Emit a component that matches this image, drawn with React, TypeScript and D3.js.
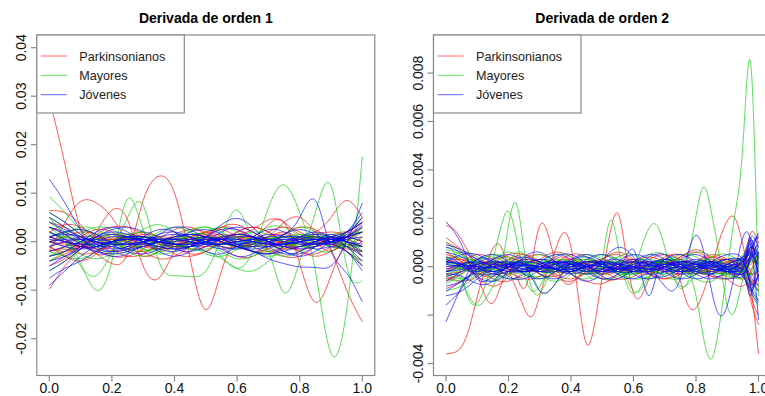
import React from "react";
import * as d3 from "d3";

// Evaluation grids (x in [0, 1])
const gridD1 = [0, 0.05, 0.1, 0.15, 0.2, 0.25, 0.3, 0.35, 0.4, 0.45, 0.5, 0.55, 0.6, 0.65, 0.7, 0.75, 0.8, 0.85, 0.9, 0.95, 1];
const gridD2 = [0, 0.05, 0.1, 0.15, 0.2, 0.25, 0.3, 0.35, 0.4, 0.45, 0.5, 0.55, 0.6, 0.65, 0.7, 0.75, 0.8, 0.85, 0.9, 0.95, 0.975, 1];
const gridD2Fine = [
  0, 0.025, 0.05, 0.075, 0.1, 0.125, 0.15, 0.175, 0.2, 0.225, 0.25, 0.275, 0.3, 0.325, 0.35, 0.375, 0.4, 0.425, 0.45, 0.475,
  0.5, 0.525, 0.55, 0.575, 0.6, 0.625, 0.65, 0.675, 0.7, 0.725, 0.75, 0.775, 0.8, 0.825, 0.85, 0.875, 0.9, 0.925, 0.95, 0.975, 1,
];

// First derivative curves, values in units of 1e-3
const unitD1 = 1e-3;
const parkinsonD1 = [
  [3, 1.5, -0.5, -1.5, -1, 0.5, 1.5, 1, -0.5, -1.5, -1, 0.5, 1.5, 1, -0.5, -1.5, -1, 0, 1, 2, 4],
  [-4, -2.5, -1, 0.5, 1.5, 1, -0.5, -1.5, -1, 0.5, 2, 2.5, 1, -1, -2, -1, 0.5, 1, 0, -2, -4],
  [-2, -1.5, -2.5, -2, -0.5, 1, 2, 1, -1, -2.5, -2, 0, 2, 3, 2, 0, -1.5, -1, 0, 1, 3],
  [1, 0, -0.5, 0, 0.5, 0, -0.5, 0, 0.5, 0.5, 0, -0.5, 0, 0.5, 0.5, 0, -0.5, 0, 0.5, 1, 2],
  [6.4, 6, 3.5, 0, -2, -1.5, 0, 1, 0.5, -0.5, -1, -0.5, 0.5, 1, 0.5, -0.5, -1, -0.5, 0.5, 1, 0],
  [-9.8, -5, -1.5, 0.5, 1, 0.5, -0.5, -1, -0.5, 0.5, 1, 0.5, -0.5, -1, -0.5, 0, 0.5, 0, -0.5, -2, -5],
  [0, 1, 2, 1.5, 0, -1.5, -2, -1, 0.5, 1.5, 1, 0, -1, -0.5, 1, 4, 5, 2, -1, -1, 1],
  [-1, -3, -4, -2.5, 0, 1.5, 1, 0, -0.5, 0, 1, 1.5, 1, 0, -0.5, -1, -2, -3, -2, 0, 3],
  [2, 0.5, -1, -1, 0, 0.5, 0.5, 0, 0, 0.5, 1, 3, 3.5, 2, 0.5, 0, 0.5, 1, 0.5, -0.5, -1],
  [-3, -2, -0.5, 0.5, 0.5, 0, -1, -1.5, -1, 0, 0.5, 0, -1, -2, -1.5, 0, 1, 0.5, -0.5, -1.5, -2],
  [4, 3, 1, -1.5, -3, -3, -1.5, 0.5, 2.5, 3, 1.5, -1, -3, -3, -1, 1.5, 3, 2.5, 0.5, -1, -2],
  [-5, -3.5, -1, 1.5, 3, 3, 1.5, -0.5, -2.5, -3, -2, 0, 2, 3, 2, 0, -2, -2.5, -1, 1, 4],
  [2, 3.5, 3, 1, -1.5, -3, -2.5, -0.5, 1.5, 2.5, 2, 0.5, -1, -2, -2.5, -1.5, 0, 1.5, 2, 1, -3],
  [-2, -1, 1, 2.5, 2, 0, -2, -3.5, -3, -1, 1.5, 3, 2.5, 0.5, -1.5, -3, -3, -1, 1, 2, 0],
  [29.5, 16, 2.5, -2.5, -2, 0, 1, 0.5, -0.5, 0, 0.5, 0, -1, -0.5, 0.5, 1, 0.5, -0.5, 0, 0.5, -1],
  [-1, -2, -1, -2.5, -4.5, -2.5, 8.5, 13.5, 10, -3.5, -14, -6, 0.5, 1, 0, -1, 0, 1, 0, -1, 0],
  [-2, 4, 8.3, 8, 5, 0, -3, -2, 0, 1, 2, 1, -1, -0.5, 1, 1.5, 0, -1, 0, 1, 2],
  [0, -1, -1.5, 2, 6.5, 4.5, -5, -7.5, -2, 1, 1.5, 0, -1, 0, 2, 3, 2, 0, -2, 1, 5],
  [1, 0, -1, -1, 0, 1, 1, 0, -1, -1, 0, 1, 1, 1, 3.5, 4, -4.5, -12.5, -7, 0, 2],
  [-1, 0, 1, 1, 0, -1, -1, 0, 1, 1, 0, -1, -1, 0, 1, 2, 1, 1, -2, -10, -16.5],
  [0, -0.5, -1, -0.5, 0.5, 1, 0.5, -0.5, -1, -0.5, 0.5, 1, 1.5, 2.5, 4.5, 4, 1.5, 2, 5, 8.5, 5],
];
const mayoresD1 = [
  [-3, -2, 0, 1.5, 1.5, 0, -1.5, -1.5, 0, 1.5, 1.5, 0, -1, -1, 0, 1, 1, 0, -1, -1, 1],
  [5, 3, 1, 0, -0.5, -1, -1, 0, 1, 1, 0, -1, -1.5, -0.5, 0.5, 1, 0.5, -0.5, 0, 2, 5],
  [-6, -4, -1.5, 0.5, 1.5, 1.5, 0.5, -0.5, -1, -0.5, 0.5, 1, 0.5, -0.5, -1, -1, 0, 1, 1, 0, -3],
  [9.3, 6, 2.5, 0.5, -0.5, -0.5, 0, 0.5, 0.5, 0, -0.5, -0.5, 0, 0.5, 0.5, 0, -0.5, -0.5, 0, 1, 3],
  [1, 2, 2.5, 1.5, 0, -1.5, -2, -1, 1, 2.5, 3, 2, 0, -2, -3, -2, 0, 1.5, 1, -1, -2],
  [-2, -3, -3.5, -2, 0, 1.5, 2, 1, -0.5, -1.5, -1.5, -0.5, 1, 2, 1.5, 0, -1, -1, 0.5, 1.5, 2],
  [4, 2, 0, -1, -0.5, 0.5, 1, 0.5, -0.5, -1, -0.5, 0.5, 1, 0.5, 0, -0.5, 0, 0.5, 0.5, -1, -5],
  [0, 1, 0, -1, -0.5, 0.5, 1, 0.5, -0.5, -1.5, -2, -3.5, -5.5, -6, -4, -1, 1, 1, 0, -1, -1],
  [-4, -2, 0, 0.5, 0, -0.5, -0.5, 0, 0.5, 0.5, 0, -0.5, -0.5, 0, 0.5, 1, 1.5, 1, 0, -0.5, -1],
  [2, 0, -2.5, -3.5, -2.5, 0, 2.5, 3.5, 2, -0.5, -2.5, -3, -1.5, 1, 3, 3, 1, -1.5, -2, 0, 3],
  [-3, -1, 1.5, 3, 2.5, 0.5, -1.5, -2.5, -2, 0, 2, 3, 2, 0, -2, -3, -2, 0, 1.5, 1, -2],
  [6, 4, 1.5, -1, -2.5, -2, 0, 2, 3, 2, 0, -2, -3.5, -3, -1, 1.5, 3, 2, 0, -2, -4],
  [-1, 1.5, 3, 2.5, 0.5, -2, -3, -2, 0, 2, 3, 1.5, -0.5, -2, -2, -0.5, 1, 0.5, -1, 0, 2],
  [5, 1, -4.5, -10, -4, 8.8, 2.5, -2, -1, 0, 1, 0, -1, 0, 1, 0, -1, 0, 1, 0, -1],
  [3, 0, -5, -7, -2, 5, 7.5, -4, -7, -7.2, -6, 1, 6.5, 1, -2, -10.5, -4, 6, 11.5, -5, -8],
  [2, 1, 0, -1, 0, 1, 0, -1, 0, 1, 0, -3, -5.5, -2, 7, 11.7, 6, -6, -23, -14, 17.5],
];
const jovenesD1 = [
  [12.9, 8, 2.5, -0.5, -1, 0, 0.5, 0, -0.5, 0, 0.5, 0.5, 0, -0.5, 0, 0.5, 0.5, 0, -0.5, 1, 3],
  [-9, -6, -3, -1, 0, 0.5, 0.5, 0, -0.5, -0.5, 0, 0.5, 0.5, 0, -0.5, -0.5, 0, 0.5, 0.5, 1, 2],
  [-7.5, -5.5, -4, -2, 0, 1, 1, 0.5, -0.5, -1, -0.5, 0.5, 1, 1, 0, -1, -1, 0, 1, 2, 4],
  [4, 2.5, 1, 0, -0.5, -0.5, 0, 0.5, 0.5, 0, -0.5, -0.5, 0, 0.5, 0.5, 0, -0.5, -0.5, 0, 0.5, 1],
  [1, 1.5, 1, 0, -1, -1.5, -1, 0, 1, 1.5, 1, 0, -1, -1.5, -1, 0, 1, 1.5, 1, 0, -1],
  [-2, -1, 0, 1, 1.5, 1, 0, -1, -1.5, -1, 0, 1, 1.5, 1, 0, -1, -1.5, -1, 0, 1, 2],
  [6, 4, 1.5, -0.5, -1.5, -1, 0, 1, 1.5, 1, 0, -1, -1.5, -1, 0, 1, 1, 0.5, 0, 2, 6],
  [0, -1, -1.5, -1, 0, 0.5, 0, -1, -1.5, -1, 1, 3.5, 4.8, 3, 0, -2, -2.5, -1, 0.5, 1, 0],
  [-4, -3, -1.5, 0, 1, 1, 0.5, 0, 0, 0.5, 1, 0.5, -0.5, -1, -1, -0.5, 0.5, 1, 0.5, 0, -1],
  [2, 0.5, -1, -2, -2.5, -2, -1, 0, 1, 1.5, 1, 0, -1, -2, -2.5, -2, -1, 0, 1, 0, -3],
  [-1, 0, 0.5, 0.5, 0, -0.5, -0.5, 0, 0.5, 0.5, 0, -0.5, -0.5, 0, 0.5, 0.5, 0, -0.5, -0.5, -2, -6],
  [3, 2, 0.5, -1, -2, -1.5, 0, 1.5, 2, 1, -0.5, -1.5, -1, 0.5, 1.5, 1, 0, -0.5, 0, 1.5, 5],
  [-5, -3, -1, 1, 2.5, 3, 2, 0, -1.5, -2, -1, 0.5, 1.5, 1, 0, -0.5, 0, 0.5, 0, -1, -3],
  [0.5, 0, -0.5, -0.5, 0, 0.5, 0.5, 0, -0.5, -0.5, 0, 0.5, 0.5, 0, -0.5, -0.5, 0, 0.5, 0.5, 0, -0.5],
  [3, 1.5, -0.5, -2, -3, -2.5, -0.5, 1.5, 3, 2.5, 0.5, -1.5, -3, -2.5, -0.5, 1.5, 2.5, 1.5, 0, 1, 3.5],
  [-3, -2, 0, 2, 3, 2, 0, -2, -3, -2, 0, 2, 3, 2, 0, -2, -3, -2, 0, 2, 4],
  [5, 3, 0.5, -1.5, -2, -1, 1, 2.5, 2, 0, -2, -2.5, -1, 1, 2.5, 2, 0, -1.5, -1, -2, -5],
  [-6, -4, -1.5, 1, 2, 1.5, 0, -1.5, -2, -1, 1, 2.5, 2.5, 1, -1, -2.5, -2, 0, 1.5, 0, -2],
  [1, 2, 2.5, 1.5, -0.5, -2, -2.5, -1.5, 0.5, 2, 2.5, 1.5, -0.5, -2, -2.5, -1, 1, 2, 1, -1, -4],
  [0, 0.5, 0.5, 0, -0.5, -0.5, 0, 0.5, 0.5, 0, -0.5, -0.5, 0, 0.5, 1, 1.5, 5, 8.5, -1.5, -6.5, -12.4],
  [1, 0, -1, -1, 0, 1, 1, 0, -1, -1, 0, 0.5, -1, -2, -3.5, -4.5, -5.2, -5.3, -5, 0, 8],
];

// Second derivative curves, values in units of 1e-4
const unitD2 = 1e-4;
const parkinsonD2 = [
  [10, 6, -2, -4, 0, 3, 1, -2, -2, 1, 3, 1, -2, -3, 0, 2, 1, -2, -2, 3, 8, 3],
  [-6, -3, 1, 2, 0, -2, -1, 2, 3, 0, -3, -2, 1, 2, 0, -2, -1, 2, 3, -1, -12, -20],
  [2, 3, 0, -3, -2, 1, 3, 1, -2, -3, -1, 2, 3, 1, -2, -3, 0, 4, 2, -4, -8, 0],
  [-1, 0, 1, 1, -1, -2, 0, 2, 1, -1, -2, 0, 2, 1, -1, -2, 0, 2, 1, 2, 14, 10],
  [4, 2, -4, -8, -4, 3, 5, 2, -3, -6, -7, -3, 2, 4, 2, -1, -3, -1, 2, 3, -2, -8],
  [-9, -6, -1, 3, 4, 1, -3, -4, -1, 2, 2, 0, -2, -1, 1, 4, 6, 2, -5, -8, -2, 6],
  [0, 1, 2, 1, -1, -2, -1, 1, 2, 1, -1, -2, -1, 1, 2, 1, -1, -2, -1, 1, 4, 2],
  [6, 2, -2, 0, 3, 2, -1, -2, 0, 2, 1, -1, -1, 1, 2, 0, -2, 0, 2, 0, -5, -10],
  [-3, -2, 0, 2, 1, -1, -2, -1, 1, 2, 1, -1, -2, -1, 1, 4, 7, 3, -3, -2, 1, 3],
  [5, 3, -1, -5, -6, -2, 3, 6, 4, -1, -5, -5, -1, 3, 5, 3, -1, -4, -3, 2, 6, 0],
  [-4, -6, -4, 1, 5, 5, 1, -4, -6, -2, 3, 6, 3, -2, -5, -3, 2, 5, 3, -3, -14, -24],
  [12, 7, 2, 0, 3, 5, 2, -3, -5, -2, 3, 5, 2, -3, -5, -2, 2, 4, 0, -5, 5, 12],
  [-2, 2, 5, 3, -2, -5, -4, 1, 5, 4, -1, -5, -4, 0, 4, 5, 1, -4, -5, -1, 8, 5],
];
const parkinsonD2Fine = [
  [-36, -35.5, -33, -25, -12.5, -1, 7.5, 8.5, -1, -9, -17, -20.5, -12, -2, 3, 4, 2, -1, -2, -1, 1, 2, 1, -1, -2, -1, 1, 2, 1, -1, -2, -1, 1, 2, 1, -1, -2, 0, 2, 3, 1],
  [3, 2, 0, -2, -3, -2, 0, 1, 0, -4, -9, 2, 17, 14, 2, -6, -7, -4, 0, 2, 1, -1, -2, -1, 1, 2, 1, -1, -2, -1, 1, 2, 1, -1, -2, -1, 1, 2, 0, -3, -2],
  [-2, -1, 1, 2, 1, -1, -2, -1, 1, 2, 1, -1, -2, 0, 7, 14, 8, -14, -32, -24, -4, 14, 22, 6, -11, -12, -5, 0, 2, 1, -1, -2, -1, 1, 2, 1, -1, -2, -1, 2, 1],
  [17, 15.5, 11, 5, -3, -12, -15, -8, 0, 4, 3, 0, -3, -4, -2, 1, 3, 3, 1, -2, -3, -2, 0, 2, 2, 0, -2, -2, 0, 2, 3, 1, -2, -3, -1, 2, 3, 1, -2, -6, -4],
  [-5, -4, -1, 2, 3, 2, 0, -2, -3, -1, 1, 2, 1, -1, -2, -1, 1, 2, 1, -1, -2, -1, 1, 2, 1, -1, -2, 0, 3, 2, -6, -16, -17, -10, 0, 11, 19, 20, 9, -8, -36],
];
const mayoresD2 = [
  [7, 5, 0, -4, -3, 1, 3, 1, -2, -3, 0, 2, 2, -1, -3, -1, 2, 3, 0, -3, -4, 2],
  [-5, -6, -3, 2, 4, 1, -2, -2, 1, 3, 1, -2, -3, 0, 3, 2, -1, -2, 1, 4, 8, 5],
  [3, 4, 2, -1, -3, -2, 1, 3, 2, -1, -3, -1, 2, 3, 1, -2, -3, 0, 3, 2, -6, -14],
  [-10, -8, -4, 0, 2, 1, -1, -1, 1, 2, 0, -2, -2, 1, 3, 2, -1, -3, -2, 2, 5, 0],
  [1, -1, -2, 0, 2, 2, 0, -2, -2, 0, 2, 2, 0, -2, -2, 0, 2, 2, 0, -1, -3, -1],
  [4, -6, -16, -8, 2, 5, -10, -7, 1, 4, 1, -3, -2, 1, 3, 1, -2, -3, 0, 3, 6, 4],
  [-2, 0, 3, 4, 1, -3, -4, -1, 2, 3, 1, -2, -3, -1, 2, 3, 1, -2, -3, -1, 3, 6],
  [2, 1, 0, -1, 0, 1, 2, 1, -1, -2, 0, 3, -10, -4, 2, -8, -3, 2, 1, -2, -1, 1],
  [-7, -3, 2, 5, 3, -2, -5, -3, 2, 5, 3, -2, -5, -4, 1, 5, 4, 0, -4, -5, -3, 4],
  [3, 6, 4, -1, -5, -4, 1, 5, 4, -1, -5, -4, 0, 5, 5, 0, -5, -6, -1, 5, 9, 2],
  [10, 5, -2, -6, -3, 2, 5, 2, -3, -5, -1, 4, 5, 1, -4, -5, -1, 4, 5, 0, -10, -16],
  [-3, -5, -2, 3, 6, 3, -3, -6, -3, 2, 5, 3, -2, -5, -3, 2, 6, 4, -2, -4, 3, 7],
];
const mayoresD2Fine = [
  [8, 6, -4, -14, -15, -8, 3, 16, 23, 12, -3, -10, -8, -2, 2, 3, 1, -2, -3, -1, 1, 2, 1, -1, -2, -1, 1, 2, 1, -1, -2, -2, 0, 2, 2, 0, -3, -4, -1, 3, 2],
  [-4, -3, 0, 3, 2, -2, -5, -1, 17, 26, 7, -9, -11, -5, 0, 2, 1, -1, -2, -1, 1, 2, 1, -1, -2, -1, 1, 2, 1, -1, -2, -1, 1, 2, 1, -1, -2, 0, 3, 5, 3],
  [2, 1, -1, -2, -1, 1, 2, 1, -1, -2, -1, 1, 2, 1, -1, -2, 0, 1, -3, -5, 3, 19, 9, -6, -11, -8, -2, 1, 2, 1, -1, -2, -1, 1, 2, 1, -1, -2, -2, 2, 4],
  [-3, -2, 0, 2, 2, 0, -2, -2, 0, 2, 2, 0, -2, -2, 0, 2, 2, 0, -2, -2, 0, 1, -3, -5, -1, 8, 16, 17, 8, -3, -9, -6, 0, 2, 1, -1, -2, -1, 1, 3, 1],
  [1, 2, 1, -1, -2, -1, 1, 2, 1, -1, -2, -1, 1, 2, 1, -1, -2, -1, 1, 2, 1, -1, -2, -1, 1, 2, 1, -1, 0, -3, -4, 4, 21, 33, 22, 4, -16, -18, -5, 3, -2],
  [-2, -1, 1, 2, 1, -1, -2, -1, 1, 2, 1, -1, -2, -1, 1, 2, 1, -1, -2, -1, 1, 2, 1, -1, -2, -1, 1, 2, 3, 4, 2, -2, -12, -30, -38, -24, -1, 22, 50, 84, -12],
];
const jovenesD2 = [
  [18.6, 9, -5, -4, 0, 2, 1, -1, -2, 0, 2, 1, -1, -2, 0, 2, 1, -1, -2, 1, 10, -4],
  [-22.7, -8, 3, 2, -1, -2, 0, 2, 1, -1, -2, 0, 2, 1, -1, -2, 0, 2, 1, -2, -12, 6],
  [-15.8, -9, 1, 3, 0, -2, -1, 1, 2, 0, -2, -1, 1, 2, 0, -2, -1, 1, 3, 4, 12, -6],
  [6, 4, 0, -3, -2, 1, 3, 2, -1, -3, -2, 1, 3, 2, -1, -3, -2, 1, 3, 2, -8, -14],
  [-4, -2, 1, 2, 1, -1, -2, -1, 1, 2, 1, -1, -2, -1, 1, 2, 1, -1, -2, 0, 9, 12],
  [2, 1, -1, -2, 0, 1, -10, -7, 2, 4, 1, -2, -2, 1, 3, 1, -2, -3, 0, 3, 5, 1],
  [-3, -4, -7, -6, 1, 4, 2, -1, -2, 0, 3, 8, 4, -3, -4, -1, 2, 2, -1, -3, 4, 10],
  [1, 0, -1, 0, 1, 1, 0, -1, -1, 0, 1, 1, 0, -1, -1, 0, 1, 1, 0, -1, -6, -10],
  [-8, -6, -2, 1, 2, 0, -2, -2, 0, 2, 2, 0, -2, -2, 0, 2, 2, 0, -2, -3, 3, 8],
  [8, 6, 3, 0, -2, -2, 0, 2, 2, 0, -2, -2, 0, 2, 2, 0, -2, -2, 0, 3, 11, 4],
  [-1, 1, 2, 0, -2, -1, 1, 2, 0, -2, -1, 1, 2, 0, -2, -1, 1, 2, 0, -3, -9, -3],
  [3, 0, -3, -3, 0, 3, 2, -1, -3, -1, 2, 3, 0, -3, -2, 1, 3, 1, -2, -4, 6, 14],
  [0, 0.5, 0, -0.5, 0, 0.5, 0, -0.5, 0, 0.5, 0, -0.5, 0, 0.5, 0, -0.5, 0, 0.5, 0, 1, -4, -8],
  [-12, -10, -5, -1, 1, 0, -1, 0, 1, 1, 0, -1, -1, 0, 1, 1, 0, -1, -1, 2, 8, 3],
  [2, 1, 0, 0, 1, 1, 0, -1, -1, 0, 1, 1, 0, -1, 0, 1, 1, 0, -1, 0, 5, 9],
  [-2, -1, 1, 1, 0, -1, 0, 1, 1, 0, -1, -1, 0, 1, 1, 0, -1, 0, 1, 2, -7, -4],
  [4, 1, -4, -6, -2, 4, 6, 2, -3, -6, -3, 2, 5, 3, -2, -5, -3, 2, 5, 3, -9, -15],
  [-6, -2, 3, 5, 2, -3, -5, -2, 3, 5, 2, -3, -5, -2, 3, 5, 2, -3, -5, -1, 12, 8],
  [9, 7, 3, -2, -5, -3, 2, 5, 3, -2, -5, -3, 2, 5, 3, -2, -5, -3, 1, 4, 6, -2],
  [-10, -6, -1, 3, 5, 2, -3, -5, -2, 3, 5, 2, -3, -5, -2, 3, 5, 2, -2, -4, -10, -3],
  [2, 5, 5, 1, -4, -5, -1, 4, 5, 1, -4, -5, -1, 4, 5, 1, -3, -5, -2, 2, 7, 13],
];
const jovenesD2Fine = [
  [-2, -1, 1, 2, 1, -1, -2, -1, 1, 2, 1, -1, -2, -1, 1, 2, 1, -1, -2, -1, 1, 2, 1, -1, 0, 2, 0, -4, -8, -10, -5, 6, 13, 6, -10, -20, -16, -2, 12, 10, -22],
  [1, 2, 1, -1, -2, -1, 1, 2, 1, -1, -2, -1, 1, 2, 1, -1, -2, -1, 1, 2, 0, -2, -1, 4, 7, -3, -12, -3, 3, 2, -1, -2, -1, 1, 2, 1, -1, -2, -1, 4, 6],
];

// Groups, legend and axes
const groupNames = ["Parkinsonianos", "Mayores", "Jóvenes"];
const groupColors = ["#ff0000", "#00cc00", "#0000ff"];
const titles = ["Derivada de orden 1", "Derivada de orden 2"];
const xTicks = [0, 0.2, 0.4, 0.6, 0.8, 1];
const xTickLabels = ["0.0", "0.2", "0.4", "0.6", "0.8", "1.0"];
const yTicksD1 = [-0.02, -0.01, 0, 0.01, 0.02, 0.03, 0.04];
const yTickLabelsD1 = ["-0.02", "-0.01", "0.00", "0.01", "0.02", "0.03", "0.04"];
const yTicksD2 = [-0.004, -0.002, 0, 0.002, 0.004, 0.006, 0.008];
const yTickLabelsD2 = ["-0.004", "", "0.000", "0.002", "0.004", "0.006", "0.008"];
const yDomainD1 = [-0.0249, 0.04];
const yDomainD2 = [-0.004, 0.00905];

type SeriesSet = { grid: number[]; rows: number[][]; unit: number; color: string };

const FONT = "'Liberation Sans', Arial, Helvetica, sans-serif";
const AXIS = "#8a8a8a";

function PlotPanel(props: {
  id: string;
  title: string;
  box: { x0: number; x1: number; y0: number; y1: number };
  xRange: [number, number];
  yDomain: number[];
  yRange: [number, number];
  yTicks: number[];
  yLabels: string[];
  sets: SeriesSet[];
}) {
  const { id, title, box, xRange, yDomain, yRange, yTicks, yLabels, sets } = props;
  const x = d3.scaleLinear().domain([0, 1]).range(xRange);
  const y = d3.scaleLinear().domain(yDomain).range(yRange);

  const legendW = 147.5;
  const legendH = 78;
  const rowY = [56, 75.3, 94.7];

  return (
    <g>
      <defs>
        <clipPath id={id}>
          <rect x={box.x0} y={box.y0} width={box.x1 - box.x0} height={box.y1 - box.y0} />
        </clipPath>
      </defs>
      <text x={(box.x0 + box.x1) / 2} y={22.5} textAnchor="middle" fontWeight="bold" fontSize={14} fill="#000">
        {title}
      </text>
      <g clipPath={`url(#${id})`} fill="none" strokeWidth={0.9}>
        {sets.map((s, si) => {
          const line = d3
            .line<number>()
            .x((_, i) => x(s.grid[i]))
            .y((v) => y(v * s.unit))
            .curve(d3.curveNatural);
          return s.rows.map((row, ri) => (
            <path key={`${si}-${ri}`} d={line(row) || ""} stroke={s.color} strokeOpacity={0.72} />
          ));
        })}
      </g>
      <rect x={box.x0} y={box.y0} width={box.x1 - box.x0} height={box.y1 - box.y0} fill="none" stroke={AXIS} strokeWidth={1.2} />
      {xTicks.map((t, i) => (
        <g key={`xt${i}`}>
          <line x1={x(t)} x2={x(t)} y1={box.y1} y2={box.y1 + 6} stroke={AXIS} strokeWidth={1.2} />
          <text x={x(t)} y={393} textAnchor="middle" fontSize={14} fill="#111">
            {xTickLabels[i]}
          </text>
        </g>
      ))}
      {yTicks.map((t, i) => (
        <g key={`yt${i}`}>
          <line x1={box.x0 - 6} x2={box.x0} y1={y(t)} y2={y(t)} stroke={AXIS} strokeWidth={1.2} />
          {yLabels[i] ? (
            <text
              transform={`translate(${box.x0 - 11},${y(t)}) rotate(-90)`}
              textAnchor="middle"
              fontSize={14}
              fill="#111"
            >
              {yLabels[i]}
            </text>
          ) : null}
        </g>
      ))}
      <rect x={box.x0} y={box.y0} width={legendW} height={legendH} fill="#fff" stroke={AXIS} strokeWidth={1.2} />
      {groupNames.map((name, i) => (
        <g key={`lg${i}`}>
          <line x1={box.x0 + 4} x2={box.x0 + 30} y1={rowY[i]} y2={rowY[i]} stroke={groupColors[i]} strokeWidth={1} strokeOpacity={0.6} />
          <text x={box.x0 + 42.5} y={rowY[i] + 4.5} fontSize={12.6} fill="#222">
            {name}
          </text>
        </g>
      ))}
    </g>
  );
}

export default function App() {
  const setsD1: SeriesSet[] = [
    { grid: gridD1, rows: parkinsonD1, unit: unitD1, color: groupColors[0] },
    { grid: gridD1, rows: mayoresD1, unit: unitD1, color: groupColors[1] },
    { grid: gridD1, rows: jovenesD1, unit: unitD1, color: groupColors[2] },
  ];
  const setsD2: SeriesSet[] = [
    { grid: gridD2, rows: parkinsonD2, unit: unitD2, color: groupColors[0] },
    { grid: gridD2Fine, rows: parkinsonD2Fine, unit: unitD2, color: groupColors[0] },
    { grid: gridD2, rows: mayoresD2, unit: unitD2, color: groupColors[1] },
    { grid: gridD2Fine, rows: mayoresD2Fine, unit: unitD2, color: groupColors[1] },
    { grid: gridD2, rows: jovenesD2, unit: unitD2, color: groupColors[2] },
    { grid: gridD2Fine, rows: jovenesD2Fine, unit: unitD2, color: groupColors[2] },
  ];
  return (
    <svg
      width={765}
      height={396}
      style={{ position: "absolute", left: 0, top: 0, background: "#fff" }}
      fontFamily={FONT}
    >
      <rect width={765} height={396} fill="#fff" />
      <PlotPanel
        id="clipD1"
        title={titles[0]}
        box={{ x0: 36.8, x1: 374.8, y0: 35, y1: 375.5 }}
        xRange={[49.3, 362.3]}
        yDomain={yDomainD1}
        yRange={[362.5, 47.7]}
        yTicks={yTicksD1}
        yLabels={yTickLabelsD1}
        sets={setsD1}
      />
      <PlotPanel
        id="clipD2"
        title={titles[1]}
        box={{ x0: 433.5, x1: 771, y0: 35, y1: 375.5 }}
        xRange={[446, 758.5]}
        yDomain={yDomainD2}
        yRange={[363.5, 47.7]}
        yTicks={yTicksD2}
        yLabels={yTickLabelsD2}
        sets={setsD2}
      />
    </svg>
  );
}
